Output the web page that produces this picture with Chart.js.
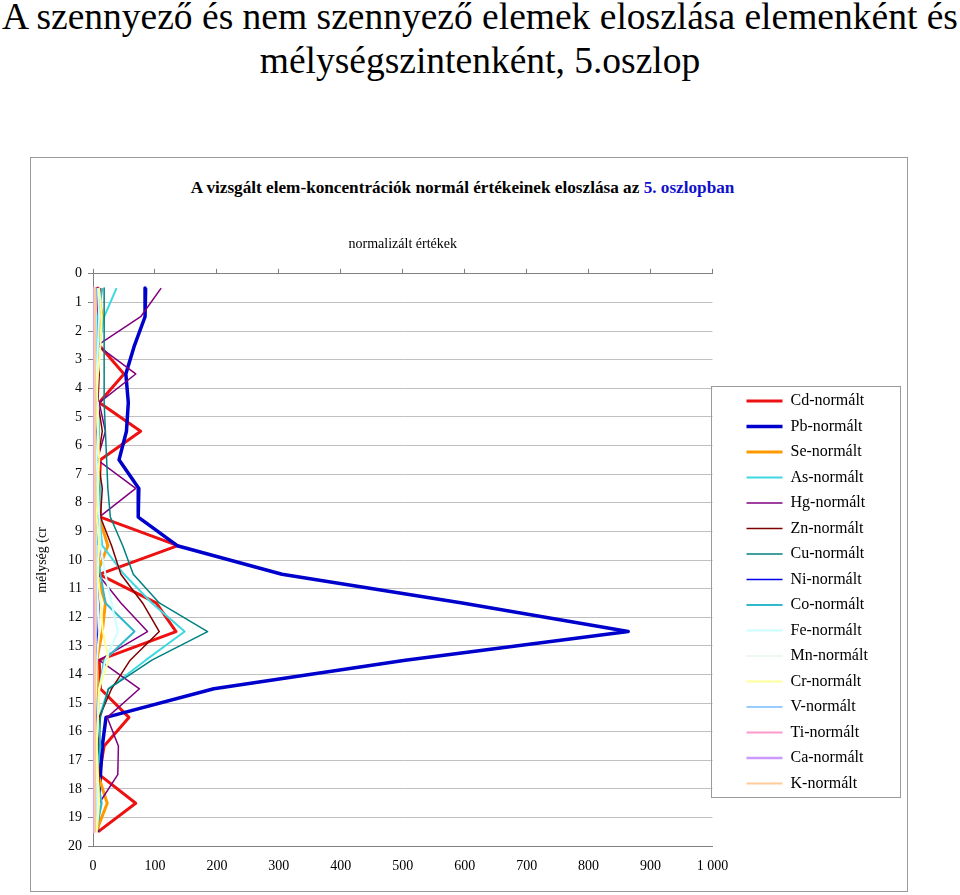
<!DOCTYPE html>
<html lang="hu">
  <head>
    <meta charset="UTF-8" />
    <title>Elemek eloszlása, 5. oszlop</title>
    <script src="https://cdn.jsdelivr.net/npm/chart.js"></script>
    <style>
      body { margin: 0; background: #fff; font-family: "Liberation Serif", serif; }
      #slideTitle {
        position: absolute; left: 0; top: -5px; width: 960px;
        text-align: center; font-size: 37.5px; line-height: 44px; color: #000;
        white-space: nowrap;
      }
      #frame {
        position: absolute; left: 30px; top: 157px; width: 878px; height: 735px;
        box-sizing: border-box; border: 1px solid #9a9a9a;
      }
      #chartTitle {
        position: absolute; left: 0; top: 178px; width: 925px;
        text-align: center; font-size: 17.2px; font-weight: bold;
      }
      #chartTitle span { color: #1111cc; }
      #chart { position: absolute; left: 30px; top: 157px; }
    </style>
  </head>
  <body>
    <div id="slideTitle">
      A szennyező és nem szennyező elemek eloszlása elemenként és<br />
      mélységszintenként, 5.oszlop
    </div>
    <div id="frame"></div>
    <div id="chartTitle">
      A vizsgált elem-koncentrációk normál értékeinek eloszlása az
      <span>5. oszlopban</span>
    </div>
    <canvas id="chart" width="878" height="735"></canvas>

    <script>
      // depth levels, points sit in the middle of each level
      const depths = [
        0.5, 1.5, 2.5, 3.5, 4.5, 5.5, 6.5, 7.5, 8.5, 9.5, 10.5, 11.5, 12.5,
        13.5, 14.5, 15.5, 16.5, 17.5, 18.5, 19.5,
      ];

      const cd = [8, 8, 10, 50, 10, 77, 12, 10, 12, 137, 10, 102, 134, 10, 12, 58, 18, 10, 69, 8];
      const pb = [85, 84, 67, 53, 57, 54, 42, 74, 73, 136, 305, 596, 864, 504, 195, 21, 15, 12, 9, 7];
      const se = [7, 15, 8, 5, 5, 5, 6, 8, 10, 24, 6, 20, 15, 6, 8, 6, 6, 8, 23, 5];
      const as = [38, 18, 10, 8, 8, 10, 8, 12, 10, 15, 50, 95, 148, 85, 25, 10, 8, 6, 12, 5];
      const hg = [110, 77, 7, 69, 10, 20, 7, 69, 10, 12, 8, 45, 88, 10, 75, 23, 41, 40, 10, 5];
      const zn = [12, 10, 6, 10, 8, 15, 8, 15, 12, 30, 45, 80, 107, 60, 30, 10, 8, 10, 8, 5];
      const cu = [18, 18, 18, 18, 18, 20, 22, 24, 28, 48, 65, 107, 185, 95, 25, 12, 10, 8, 10, 6];
      const ni = [5, 6, 5, 4, 6, 5, 5, 6, 5, 6, 5, 10, 8, 5, 5, 6, 5, 5, 4, 5];
      const co = [15, 8, 6, 6, 6, 8, 6, 10, 8, 6, 12, 20, 67, 18, 10, 8, 12, 6, 14, 5];
      const fe = [8, 10, 8, 6, 7, 8, 6, 8, 10, 12, 20, 30, 40, 20, 10, 8, 6, 6, 8, 5];
      const mn = [4, 5, 4, 4, 5, 4, 4, 5, 4, 5, 6, 8, 10, 6, 5, 4, 4, 4, 5, 4];
      const cr = [10, 14, 12, 8, 6, 8, 10, 8, 6, 10, 8, 12, 16, 25, 10, 8, 6, 8, 10, 6];
      const v = [4, 4, 3, 3, 4, 3, 3, 4, 3, 4, 4, 5, 5, 4, 3, 3, 3, 3, 4, 3];
      const ti = [2, 2, 2, 2, 2, 2, 2, 2, 2, 2, 2, 3, 3, 2, 2, 2, 2, 2, 2, 2];
      const ca = [1, 1, 1, 1, 1, 1, 1, 1, 1, 1, 1, 2, 2, 1, 1, 1, 1, 1, 1, 1];
      const k = [3, 3, 3, 2, 3, 3, 2, 3, 3, 3, 3, 4, 4, 3, 3, 3, 2, 3, 3, 3];

      const seriesNames = [
        "Cd-normált", "Pb-normált", "Se-normált", "As-normált", "Hg-normált",
        "Zn-normált", "Cu-normált", "Ni-normált", "Co-normált", "Fe-normált",
        "Mn-normált", "Cr-normált", "V-normált", "Ti-normált", "Ca-normált",
        "K-normált",
      ];
      const seriesValues = [cd, pb, se, as, hg, zn, cu, ni, co, fe, mn, cr, v, ti, ca, k];
      const seriesColors = [
        "#ee1111", "#0000cc", "#ff9900", "#40d8e0", "#800080", "#800000",
        "#008080", "#0000ee", "#30b8cc", "#ccffff", "#eef8ee", "#ffff99",
        "#99ccff", "#ff99cc", "#cc99ff", "#ffcc99",
      ];
      const seriesWidths = [3, 3.5, 3, 2, 1.5, 1.5, 1.5, 1.5, 2, 2, 2, 2, 2, 2, 2.5, 2];

      const serif = "'Liberation Serif', 'Times New Roman', serif";

      const datasets = seriesNames.map((name, i) => ({
        label: name,
        data: depths.map((d, j) => ({ x: seriesValues[i][j], y: d })),
        borderColor: seriesColors[i],
        backgroundColor: seriesColors[i],
        borderWidth: seriesWidths[i],
        borderJoinStyle: "round",
        showLine: true,
        pointRadius: 0,
        tension: 0,
        order: seriesNames.length - i, // later series on top, like Excel
      }));

      // frame around the legend
      const legendFrame = {
        id: "legendFrame",
        afterDraw(chart) {
          const hb = chart.legend.legendHitBoxes;
          if (!hb || !hb.length) return;
          const ctx = chart.ctx;
          const x0 = Math.round(chart.chartArea.right - 2);
          const y0 = Math.round(hb[0].top - 7);
          const last = hb[hb.length - 1];
          const y1 = Math.round(last.top + last.height + 5);
          ctx.save();
          ctx.strokeStyle = "#9a9a9a";
          ctx.lineWidth = 1;
          ctx.strokeRect(x0 + 0.5, y0 + 0.5, chart.width - 8 - x0, y1 - y0);
          ctx.restore();
        },
      };

      new Chart(document.getElementById("chart"), {
        type: "scatter",
        data: { datasets },
        plugins: [legendFrame],
        options: {
          responsive: false,
          animation: false,
          devicePixelRatio: 1,
          layout: { padding: { top: 79, bottom: 5, left: 0, right: 33 } },
          plugins: {
            tooltip: { enabled: false },
            legend: {
              position: "right",
              fullSize: false,
              align: "center",
              maxWidth: 138,
              title: {
                display: true,
                text: "",
                font: { size: 10, lineHeight: 1 },
                padding: { top: 54.5, bottom: 0 },
              },
              labels: {
                usePointStyle: true,
                pointStyle: "line",
                pointStyleWidth: 36,
                padding: 9.5,
                color: "#000",
                font: { family: serif, size: 16 },
                sort: (a, b) => a.datasetIndex - b.datasetIndex,
              },
            },
          },
          scales: {
            x: {
              type: "linear",
              position: "bottom",
              min: 0,
              max: 1000,
              grid: { display: false, drawTicks: false },
              border: { display: true, color: "#808080" },
              ticks: {
                stepSize: 100,
                padding: 12,
                color: "#000",
                font: { family: serif, size: 14 },
                callback: (val) => String(val).replace(/\B(?=(\d{3})+(?!\d))/g, " "),
              },
            },
            x2: {
              type: "linear",
              position: "top",
              min: 0,
              max: 1000,
              grid: {
                display: true,
                drawOnChartArea: false,
                drawTicks: true,
                tickLength: 5,
                tickColor: "#808080",
              },
              border: { display: true, color: "#808080" },
              ticks: { display: false, stepSize: 100 },
              title: {
                display: true,
                text: "normalizált értékek",
                color: "#000",
                font: { family: serif, size: 14 },
                padding: { top: 0, bottom: 16 },
              },
            },
            y: {
              type: "linear",
              position: "left",
              reverse: true,
              min: 0,
              max: 20,
              afterFit: (s) => { s.width = 63; },
              grid: {
                color: "#c0c0c0",
                tickLength: 5,
                tickColor: "#808080",
              },
              border: { display: true, color: "#808080" },
              ticks: {
                stepSize: 1,
                padding: 6,
                color: "#000",
                font: { family: serif, size: 14 },
              },
              title: {
                display: true,
                text: "mélység (cr",
                color: "#000",
                font: { family: serif, size: 14 },
                padding: { top: 4, bottom: 0 },
              },
            },
            y2: {
              type: "linear",
              position: "right",
              display: true,
              grid: { display: false, drawTicks: false },
              border: { display: false },
              ticks: { display: false },
              afterFit: (s) => { s.width = 24.5; },
            },
          },
        },
      });
    </script>
  </body>
</html>
